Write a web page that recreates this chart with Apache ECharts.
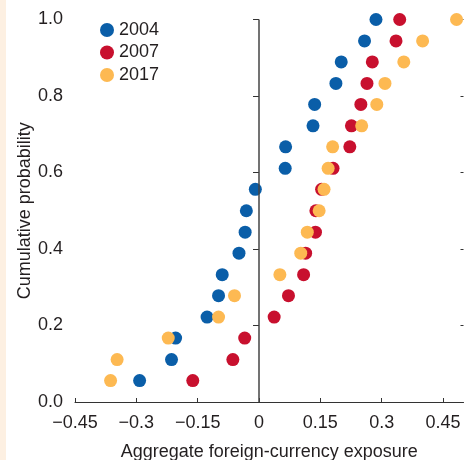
<!DOCTYPE html>
<html>
<head>
<meta charset="utf-8">
<script src="https://cdn.jsdelivr.net/npm/echarts@6/dist/echarts.min.js"></script>
<style>
  html, body { margin: 0; padding: 0; background: #ffffff; }
  #chart { position: absolute; left: 0; top: 0; width: 465px; height: 460px; }
  #edge { position: absolute; left: 0; top: 0; width: 6px; height: 460px; background: #FDF0E2; }
</style>
</head>
<body>
<div id="chart"></div>
<div id="edge"></div>
<script>
// Cumulative probability levels (one per country, sorted)
const cumulativeProb = [0.056, 0.111, 0.167, 0.222, 0.278, 0.333, 0.389, 0.444, 0.5,
                        0.556, 0.611, 0.667, 0.722, 0.778, 0.833, 0.889, 0.944, 1.0];

// Aggregate foreign-currency exposure, sorted ascending, per year
const exposure2004 = [-0.292, -0.214, -0.204, -0.127, -0.099, -0.090, -0.049, -0.034, -0.031,
                      -0.009, 0.064, 0.065, 0.132, 0.136, 0.188, 0.201, 0.258, 0.286];
const exposure2007 = [-0.162, -0.064, -0.035, 0.037, 0.072, 0.109, 0.114, 0.138, 0.139,
                      0.153, 0.181, 0.222, 0.226, 0.249, 0.264, 0.277, 0.335, 0.344];
const exposure2017 = [-0.363, -0.347, -0.222, -0.099, -0.060, 0.051, 0.102, 0.118, 0.147,
                      0.159, 0.169, 0.180, 0.251, 0.288, 0.308, 0.354, 0.400, 0.483];

const years = ['2004', '2007', '2017'];
const colors = ['#0A5EA8', '#C8102E', '#FDB952'];
const xTicks = [-0.45, -0.3, -0.15, 0, 0.15, 0.3, 0.45];

const FONT = "'Liberation Sans', Arial, sans-serif";
const TEXT = '#231F20';
const FS = 18;

const pairs = (xs) => xs.map((x, i) => [x, cumulativeProb[i]]);

const chart = echarts.init(document.getElementById('chart'));

const series = [exposure2004, exposure2007, exposure2017].map((xs, i) => ({
  name: years[i],
  type: 'scatter',
  data: pairs(xs),
  symbol: 'circle',
  symbolSize: 13,
  itemStyle: { color: colors[i], opacity: 1 },
  z: 3 + i,
  emphasis: { disabled: true }
}));

// vertical reference line at zero exposure
series[0].markLine = {
  silent: true,
  symbol: 'none',
  label: { show: false },
  lineStyle: { color: '#444', width: 1.5, type: 'solid' },
  data: [{ xAxis: 0 }]
};

const fmtX = (v) => {
  const r = Math.round(v * 100) / 100;
  if (r === 0) return '0';
  const s = String(Math.abs(r));
  return r < 0 ? '\u2212' + s : s;
};

chart.setOption({
  animation: false,
  backgroundColor: '#ffffff',
  textStyle: { fontFamily: FONT },
  grid: { left: 75, right: 1.5, top: 19.5, bottom: 58, outerBoundsMode: 'none', containLabel: false },
  legend: {
    orient: 'vertical',
    left: 100,
    top: 21,
    padding: 0,
    itemWidth: 14,
    itemHeight: 14,
    itemGap: 4.5,
    icon: 'circle',
    data: years,
    textStyle: { fontFamily: FONT, fontSize: FS, color: TEXT }
  },
  xAxis: {
    type: 'value',
    min: -0.45,
    max: 0.5,
    interval: 0.15,
    name: 'Aggregate foreign-currency exposure',
    nameLocation: 'middle',
    nameGap: 41,
    nameMoveOverlap: false,
    nameTextStyle: { fontFamily: FONT, fontSize: FS, color: TEXT },
    axisLine: { lineStyle: { color: '#333', width: 1 } },
    axisTick: { inside: true, length: 4, customValues: xTicks, lineStyle: { color: '#333' } },
    axisLabel: { customValues: xTicks, fontFamily: FONT, fontSize: FS, color: TEXT, margin: 12, formatter: fmtX },
    splitLine: { show: false }
  },
  yAxis: [
    {
      type: 'value',
      position: 'left',
      min: 0,
      max: 1,
      interval: 0.2,
      name: 'Cumulative probability',
      nameLocation: 'middle',
      nameGap: 41,
      nameMoveOverlap: false,
      nameTextStyle: { fontFamily: FONT, fontSize: FS, color: TEXT },
      axisLine: { show: false },
      axisTick: { show: true, inside: false, length: 6, lineStyle: { color: '#333' } },
      axisLabel: { fontFamily: FONT, fontSize: FS, color: TEXT, margin: 12, formatter: (v) => v.toFixed(1) },
      splitLine: { show: false }
    },
    {
      type: 'value',
      position: 'right',
      min: 0,
      max: 1,
      interval: 0.2,
      axisLine: { show: false },
      axisTick: { show: true, inside: true, length: 3, lineStyle: { color: '#333' } },
      axisLabel: { show: false },
      splitLine: { show: false }
    }
  ],
  series: series
});
</script>
</body>
</html>
